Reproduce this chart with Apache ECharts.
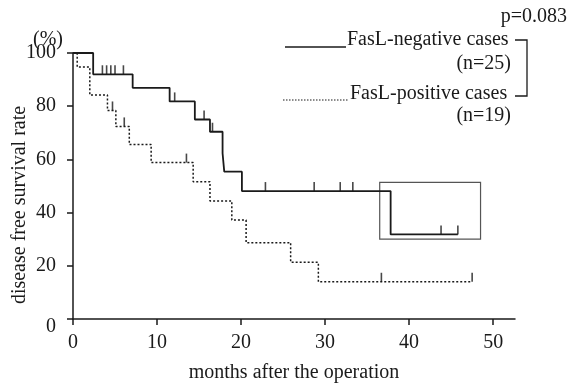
<!DOCTYPE html>
<html>
<head>
<meta charset="utf-8">
<script src="https://cdn.jsdelivr.net/npm/echarts@6/dist/echarts.min.js"></script>
<style>
  html, body { margin: 0; padding: 0; background: #fff; }
  #chart { width: 571px; height: 383px; }
</style>
</head>
<body>
<div id="chart"></div>
<script>
// FasL-negative (solid): month of each step and survival % after it
var negTimes = [0, 2.4, 7.1, 11.5, 14.5, 16.3, 17.8, 18.0, 20.1, 37.8, 45.8]
var negSurv = [100, 92, 86.9, 81.8, 75, 70.4, 62.3, 55.4, 48.1, 31.8, 31.8]
var negCensorT = [3.5, 4.0, 4.5, 5.0, 6.0, 12.1, 15.6, 16.6, 22.9, 28.7, 31.8, 33.3, 43.8, 45.8]
var negCensorS = [92, 92, 92, 92, 92, 81.8, 75, 70.4, 48.1, 48.1, 48.1, 48.1, 31.8, 31.8]

// FasL-positive (dotted)
var posTimes = [0, 0.5, 2.0, 4.1, 5.1, 6.7, 9.3, 14.3, 16.3, 18.9, 20.6, 25.9, 29.2, 47.5]
var posSurv = [100, 94.7, 84.2, 78.4, 72.4, 65.6, 58.8, 51.6, 44.4, 37.2, 28.7, 21.3, 14.0, 14.0]
var posCensorT = [4.7, 6.1, 13.5, 36.7, 47.5]
var posCensorS = [78.4, 72.4, 58.8, 14.0, 14.0]

var xTicks = [0, 10, 20, 30, 40, 50]
var yTicks = [0, 20, 40, 60, 80, 100]
// highlighted box: [x from, x to, y low, y high]
var boxRange = [36.5, 48.5, 30, 51.4]

function pairs(xs, ys) {
  var out = []
  for (var i = 0; i < xs.length; i++) out.push([xs[i], ys[i]])
  return out
}

var ink = '#1a1a1a'
var font = 'Liberation Serif'

var chart = echarts.init(document.getElementById('chart'))
chart.setOption({
  animation: false,
  backgroundColor: '#fff',
  grid: { left: 73, right: 56, top: 53, bottom: 64, outerBoundsMode: 'none' },
  xAxis: {
    type: 'value',
    min: 0,
    max: 52.6,
    name: 'months after the operation',
    nameLocation: 'middle',
    nameGap: 44,
    nameTextStyle: { fontFamily: font, fontSize: 20, color: ink },
    axisLine: { lineStyle: { color: ink, width: 1.5 } },
    axisTick: { length: 6, lineStyle: { color: ink, width: 1.5 }, customValues: xTicks },
    axisLabel: { fontFamily: font, fontSize: 20, color: ink, margin: 14, customValues: xTicks },
    splitLine: { show: false }
  },
  yAxis: {
    type: 'value',
    min: yTicks[0],
    max: yTicks[yTicks.length - 1],
    interval: 20,
    axisLine: { show: true, lineStyle: { color: ink, width: 1.5 } },
    axisTick: { show: true, length: 6, lineStyle: { color: ink, width: 1.5 } },
    axisLabel: {
      fontFamily: font, fontSize: 20, color: ink, margin: 17,
      formatter: function (v) { return v === 0 ? '{z|0}' : String(v) },
      rich: { z: { fontFamily: font, fontSize: 20, color: ink, padding: [16, 0, 0, 0] } }
    },
    splitLine: { show: false }
  },
  graphic: [
    { type: 'text', left: 33, top: 30, style: { text: '(%)', font: '20px ' + font, fill: ink } },
    { type: 'text', x: 20, y: 205, rotation: Math.PI / 2,
      style: { text: 'disease free survival rate', font: '20px ' + font, fill: ink, align: 'center', verticalAlign: 'middle' } },
    { type: 'text', x: 567, y: 17, style: { text: 'p=0.083', font: '20px ' + font, fill: ink, align: 'right', verticalAlign: 'middle' } },
    { type: 'line', shape: { x1: 285, y1: 47, x2: 346, y2: 47 }, style: { stroke: ink, lineWidth: 1.3 } },
    { type: 'text', x: 347, y: 40, style: { text: 'FasL-negative cases', font: '20px ' + font, fill: ink, verticalAlign: 'middle' } },
    { type: 'text', x: 511, y: 64, style: { text: '(n=25)', font: '20px ' + font, fill: ink, align: 'right', verticalAlign: 'middle' } },
    { type: 'line', shape: { x1: 283, y1: 100, x2: 349, y2: 100 }, style: { stroke: ink, lineWidth: 1.2, lineDash: [1.5, 1.5] } },
    { type: 'text', x: 350, y: 94, style: { text: 'FasL-positive cases', font: '20px ' + font, fill: ink, verticalAlign: 'middle' } },
    { type: 'text', x: 511, y: 116, style: { text: '(n=19)', font: '20px ' + font, fill: ink, align: 'right', verticalAlign: 'middle' } },
    { type: 'polyline', shape: { points: [[515, 40], [527, 40], [527, 96], [515, 96]] }, style: { stroke: ink, lineWidth: 1.3, fill: null } }
  ],
  series: [
    {
      name: 'FasL-negative cases',
      type: 'line',
      step: 'end',
      showSymbol: false,
      data: pairs(negTimes, negSurv),
      lineStyle: { color: ink, width: 1.8 },
      markArea: {
        silent: true,
        itemStyle: { color: 'rgba(0,0,0,0)', borderColor: '#555', borderWidth: 1.2 },
        data: [[{ coord: [boxRange[0], boxRange[3]] }, { coord: [boxRange[1], boxRange[2]] }]]
      }
    },
    {
      name: 'FasL-positive cases',
      type: 'line',
      step: 'end',
      showSymbol: false,
      data: pairs(posTimes, posSurv),
      lineStyle: { color: ink, width: 1.5, type: [2, 2] }
    },
    {
      type: 'scatter',
      symbol: 'rect',
      symbolSize: [1.6, 9],
      symbolOffset: [0, -4.5],
      itemStyle: { color: ink },
      data: pairs(negCensorT, negCensorS)
    },
    {
      type: 'scatter',
      symbol: 'rect',
      symbolSize: [1.6, 9],
      symbolOffset: [0, -4.5],
      itemStyle: { color: ink },
      data: pairs(posCensorT, posCensorS)
    }
  ]
})
</script>
</body>
</html>
